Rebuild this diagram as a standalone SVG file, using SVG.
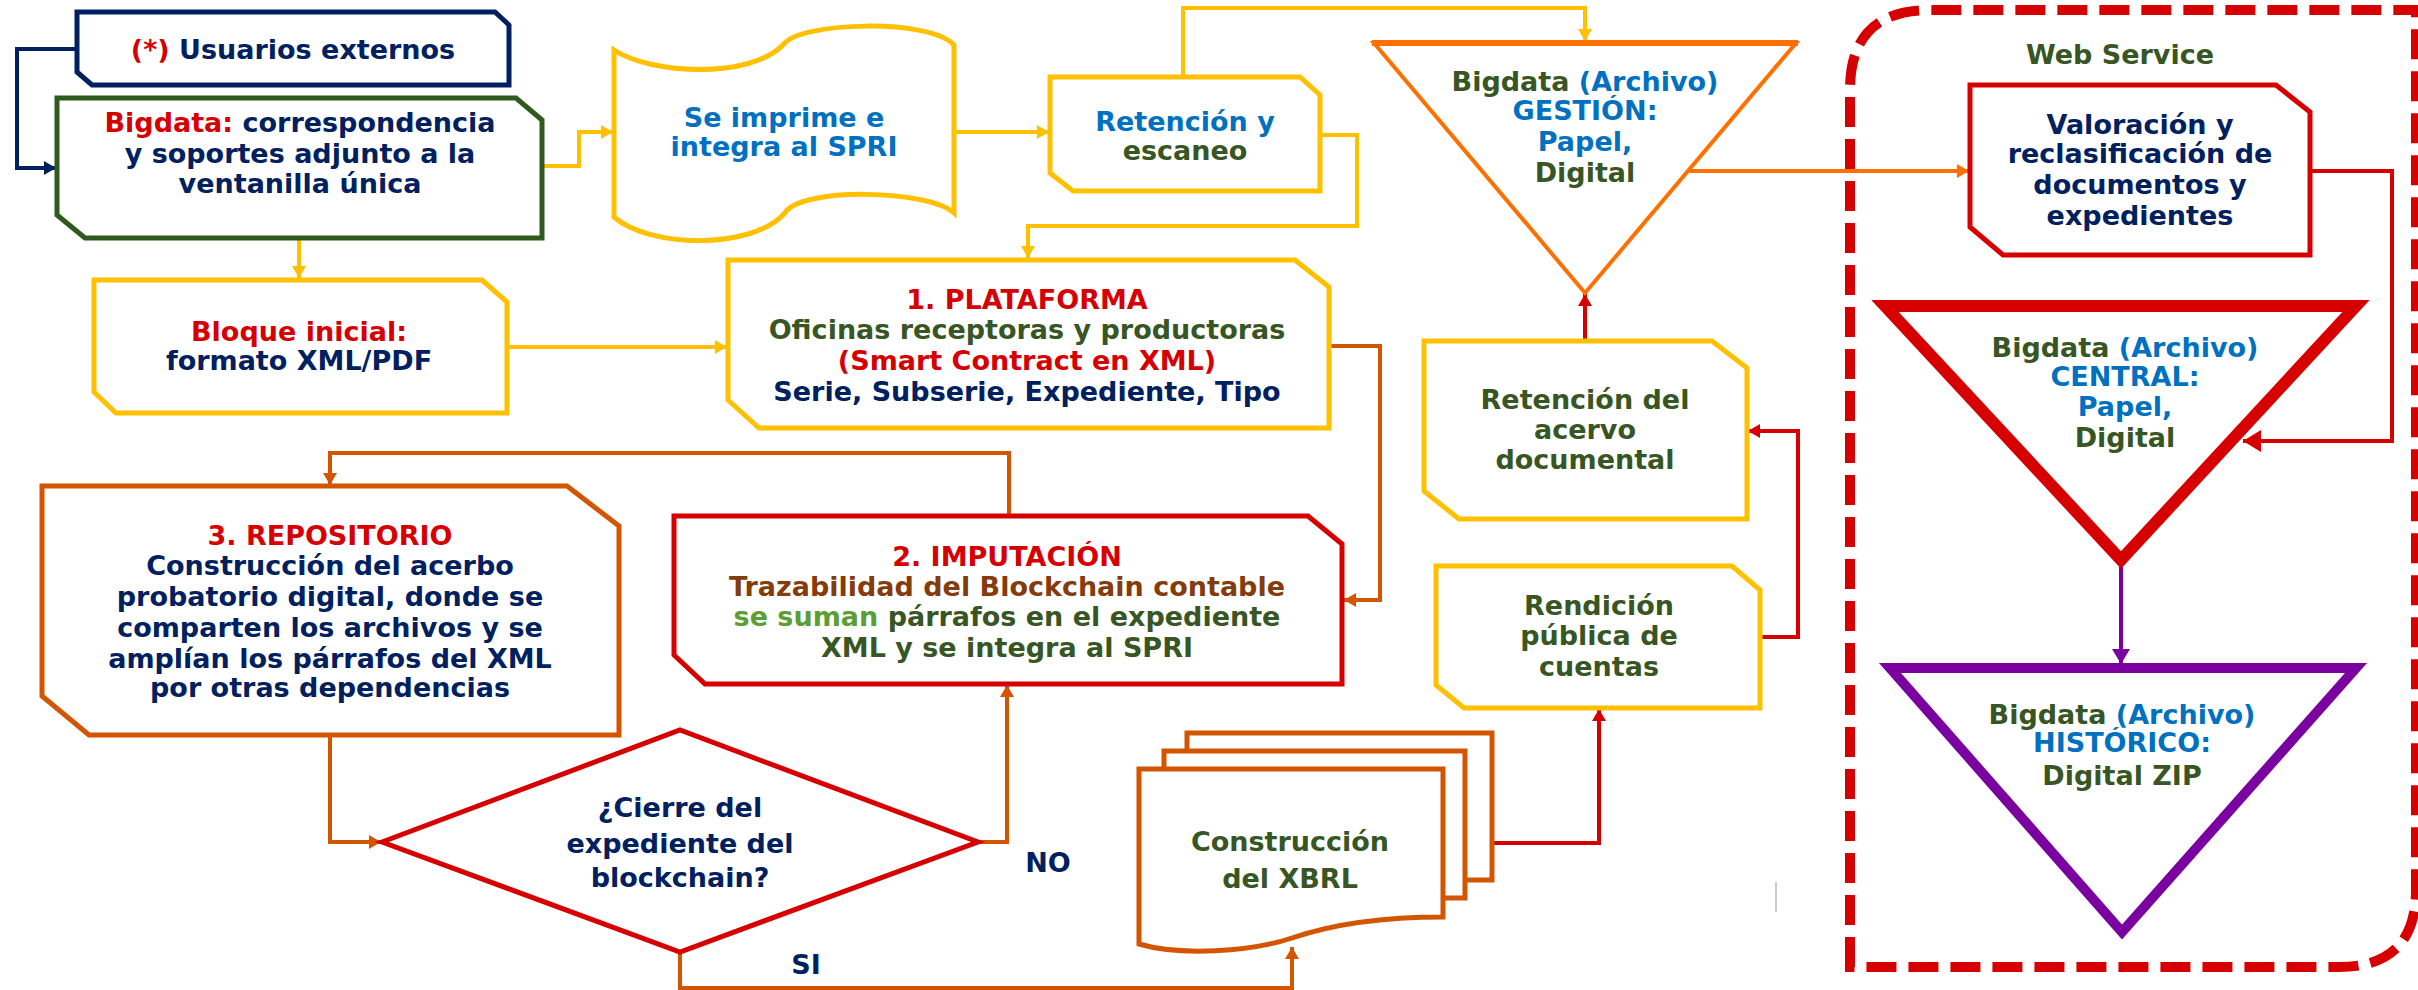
<svg xmlns="http://www.w3.org/2000/svg" width="2418" height="990" viewBox="0 0 2418 990">
<style>
.t{font-family:"DejaVu Sans",Verdana,sans-serif;font-weight:bold;font-size:27px;text-anchor:middle}
.nv{fill:#002060}.rd{fill:#d60000}.gr{fill:#375623}.bl{fill:#0070c0}.br{fill:#843c0c}.lg{fill:#5a9e34}
.box{fill:#fff;stroke-width:5;stroke-linejoin:miter}
.yl{stroke:#ffc000}.do{stroke:#d45500}.re{stroke:#d60000}.na{stroke:#002060}.gn{stroke:#2e5a1e}.or{stroke:#ff7000}.pu{stroke:#7a00a0}
.ln{fill:none;stroke-width:4;stroke-linejoin:miter}
</style>
<defs>
<marker id="aY" markerUnits="userSpaceOnUse" markerWidth="14" markerHeight="14" refX="12" refY="7" orient="auto"><path d="M0,0 L12,7 L0,14 Z" fill="#ffc000"/></marker>
<marker id="aD" markerUnits="userSpaceOnUse" markerWidth="14" markerHeight="14" refX="12" refY="7" orient="auto"><path d="M0,0 L12,7 L0,14 Z" fill="#d45500"/></marker>
<marker id="aR" markerUnits="userSpaceOnUse" markerWidth="14" markerHeight="14" refX="12" refY="7" orient="auto"><path d="M0,0 L12,7 L0,14 Z" fill="#d60000"/></marker>
<marker id="aR2" markerUnits="userSpaceOnUse" markerWidth="22" markerHeight="22" refX="18" refY="11" orient="auto"><path d="M0,0 L18,11 L0,22 Z" fill="#d60000"/></marker>
<marker id="aN" markerUnits="userSpaceOnUse" markerWidth="14" markerHeight="14" refX="12" refY="7" orient="auto"><path d="M0,0 L12,7 L0,14 Z" fill="#002060"/></marker>
<marker id="aO" markerUnits="userSpaceOnUse" markerWidth="14" markerHeight="14" refX="12" refY="7" orient="auto"><path d="M0,0 L12,7 L0,14 Z" fill="#ff7000"/></marker>
<marker id="aP" markerUnits="userSpaceOnUse" markerWidth="18" markerHeight="18" refX="15" refY="9" orient="auto"><path d="M0,0 L15,9 L0,18 Z" fill="#7a00a0"/></marker>
</defs>
<rect width="2418" height="990" fill="#fff"/>

<g id="webservice">
<path d="M1850,967 V90 Q1850,10 1930,10 H2416 V890 Q2416,967 2339,967 Z" fill="none" stroke="#d60000" stroke-width="10" stroke-dasharray="30 12"/>
<text class="t gr" x="2120" y="64" font-size="24">Web Service</text>
</g>

<g id="connectors">
<path class="ln na" d="M77,49 H17 V168 H56" marker-end="url(#aN)"/>
<path class="ln yl" d="M542,166 H579 V132 H613" marker-end="url(#aY)"/>
<path class="ln yl" d="M299,238 V278" marker-end="url(#aY)"/>
<path class="ln yl" d="M954,132 H1049" marker-end="url(#aY)"/>
<path class="ln yl" d="M1183,77 V8 H1585 V41" marker-end="url(#aY)"/>
<path class="ln yl" d="M1320,135 H1357 V226 H1028 V258" marker-end="url(#aY)"/>
<path class="ln yl" d="M507,347 H727" marker-end="url(#aY)"/>
<path class="ln do" d="M1329,346 H1380 V600 H1344" marker-end="url(#aD)"/>
<path class="ln do" d="M1009,516 V453 H330 V485" marker-end="url(#aD)"/>
<path class="ln do" d="M330,735 V842 H381" marker-end="url(#aD)"/>
<path class="ln do" d="M978,842 H1007 V685" marker-end="url(#aD)"/>
<path class="ln do" d="M680,952 V988 H1292 V947" marker-end="url(#aD)"/>
<path class="ln re" d="M1492,843 H1599 V709" marker-end="url(#aR)"/>
<path class="ln re" d="M1760,637 H1798 V431 H1748" marker-end="url(#aR)"/>
<path class="ln re" d="M1585,341 V294" marker-end="url(#aR)"/>
<path class="ln or" d="M1690,171 H1969" marker-end="url(#aO)"/>
<path class="ln re" d="M2310,171 H2392 V441 H2243" stroke-width="8" marker-end="url(#aR2)"/>
<path class="ln pu" d="M2121,567 V664" stroke-width="7" marker-end="url(#aP)"/>
<line x1="1776" y1="882" x2="1776" y2="912" stroke="#cccccc" stroke-width="2"/>
</g>

<g id="usuarios">
<path class="box na" d="M77,12 H495 L509,25 V85 H92 L77,72 Z"/>
<text class="t" x="293" y="59" font-size="28"><tspan class="rd">(*)</tspan><tspan class="nv"> Usuarios externos</tspan></text>
</g>

<g id="bigdata">
<path class="box gn" d="M57,98 H516 L542,120 V238 H85 L57,215 Z"/>
<text class="t nv" x="300" y="132"><tspan class="rd">Bigdata:</tspan> correspondencia</text>
<text class="t nv" x="300" y="163">y soportes adjunto a la</text>
<text class="t nv" x="300" y="193">ventanilla única</text>
</g>

<g id="imprime">
<path class="box yl" d="M614,50 C650,74 750,80 784,44 C800,22 930,18 954,45 V213 C930,190 800,186 784,214 C750,250 650,248 614,217 Z"/>
<text class="t bl" x="784" y="127">Se imprime e</text>
<text class="t bl" x="784" y="156">integra al SPRI</text>
</g>

<g id="retencion">
<path class="box yl" d="M1050,77 H1300 L1320,95 V191 H1073 L1050,173 Z"/>
<text class="t bl" x="1185" y="131">Retención y</text>
<text class="t gr" x="1185" y="160">escaneo</text>
</g>

<g id="bloque">
<path class="box yl" d="M94,280 H482 L507,302 V413 H116 L94,392 Z"/>
<text class="t rd" x="299" y="341">Bloque inicial:</text>
<text class="t nv" x="299" y="370">formato XML/PDF</text>
</g>

<g id="plataforma">
<path class="box yl" d="M728,260 H1295 L1329,287 V428 H759 L728,400 Z"/>
<text class="t rd" x="1027" y="309">1. PLATAFORMA</text>
<text class="t gr" x="1027" y="339">Oficinas receptoras y productoras</text>
<text class="t rd" x="1027" y="370">(Smart Contract en XML)</text>
<text class="t nv" x="1027" y="401">Serie, Subserie, Expediente, Tipo</text>
</g>

<g id="gestion">
<path d="M1374,43 L1796,43 L1585,293 Z" fill="#fff" stroke="#ff7000" stroke-width="4"/>
<line x1="1372" y1="43" x2="1798" y2="43" stroke="#ff7000" stroke-width="6"/>
<text class="t" x="1585" y="91"><tspan class="gr">Bigdata</tspan><tspan class="bl"> (Archivo)</tspan></text>
<text class="t bl" x="1585" y="120">GESTIÓN:</text>
<text class="t bl" x="1585" y="151">Papel,</text>
<text class="t gr" x="1585" y="182">Digital</text>
</g>

<g id="acervo">
<path class="box yl" d="M1424,341 H1712 L1747,368 V519 H1459 L1424,491 Z"/>
<text class="t gr" x="1585" y="409">Retención del</text>
<text class="t gr" x="1585" y="439">acervo</text>
<text class="t gr" x="1585" y="469">documental</text>
</g>

<g id="rendicion">
<path class="box yl" d="M1436,566 H1732 L1760,590 V708 H1464 L1436,685 Z"/>
<text class="t gr" x="1599" y="615">Rendición</text>
<text class="t gr" x="1599" y="645">pública de</text>
<text class="t gr" x="1599" y="676">cuentas</text>
</g>

<g id="repositorio">
<path class="box do" d="M42,486 H567 L619,526 V735 H89 L42,696 Z"/>
<text class="t rd" x="330" y="545">3. REPOSITORIO</text>
<text class="t nv" x="330" y="575">Construcción del acerbo</text>
<text class="t nv" x="330" y="606">probatorio digital, donde se</text>
<text class="t nv" x="330" y="637">comparten los archivos y se</text>
<text class="t nv" x="330" y="668">amplían los párrafos del XML</text>
<text class="t nv" x="330" y="697">por otras dependencias</text>
</g>

<g id="imputacion">
<path class="box re" d="M674,516 H1308 L1342,544 V684 H705 L674,655 Z"/>
<text class="t rd" x="1007" y="566">2. IMPUTACIÓN</text>
<text class="t br" x="1007" y="596">Trazabilidad del Blockchain contable</text>
<text class="t" x="1007" y="626"><tspan class="lg">se suman</tspan><tspan class="gr"> párrafos en el expediente</tspan></text>
<text class="t gr" x="1007" y="657">XML y se integra al SPRI</text>
</g>

<g id="decision">
<path class="box re" d="M382,842 L680,730 L978,842 L680,952 Z"/>
<text class="t nv" x="680" y="817" font-size="30">¿Cierre del</text>
<text class="t nv" x="680" y="853" font-size="30">expediente del</text>
<text class="t nv" x="680" y="887" font-size="30">blockchain?</text>
<text class="t nv" x="1048" y="872" font-size="29">NO</text>
<text class="t nv" x="806" y="974" font-size="29">SI</text>
</g>

<g id="xbrl">
<rect class="box do" x="1187" y="733" width="305" height="147"/>
<rect class="box do" x="1164" y="751" width="301" height="147"/>
<path class="box do" d="M1139,944 V769 H1443 V917 C1380,917 1330,925 1292,938 C1250,952 1180,956 1139,944 Z"/>
<text class="t gr" x="1290" y="851" font-size="31">Construcción</text>
<text class="t gr" x="1290" y="888" font-size="31">del XBRL</text>
</g>

<g id="valoracion">
<path class="box re" d="M1970,85 H2276 L2310,112 V255 H2003 L1970,227 Z"/>
<text class="t nv" x="2140" y="134">Valoración y</text>
<text class="t nv" x="2140" y="163">reclasificación de</text>
<text class="t nv" x="2140" y="194">documentos y</text>
<text class="t nv" x="2140" y="225">expedientes</text>
</g>

<g id="central">
<path d="M1885,306 L2356,306 L2121,560 Z" fill="#fff" stroke="#d60000" stroke-width="12" stroke-linejoin="miter"/>
<text class="t" x="2125" y="357"><tspan class="gr">Bigdata</tspan><tspan class="bl"> (Archivo)</tspan></text>
<text class="t bl" x="2125" y="386">CENTRAL:</text>
<text class="t bl" x="2125" y="416">Papel,</text>
<text class="t gr" x="2125" y="447">Digital</text>
</g>

<g id="historico">
<path d="M1890,668 L2356,668 L2122,932 Z" fill="#fff" stroke="#7a00a0" stroke-width="10" stroke-linejoin="miter"/>
<text class="t" x="2122" y="724"><tspan class="gr">Bigdata</tspan><tspan class="bl"> (Archivo)</tspan></text>
<text class="t bl" x="2122" y="752">HISTÓRICO:</text>
<text class="t gr" x="2122" y="785">Digital ZIP</text>
</g>
</svg>
